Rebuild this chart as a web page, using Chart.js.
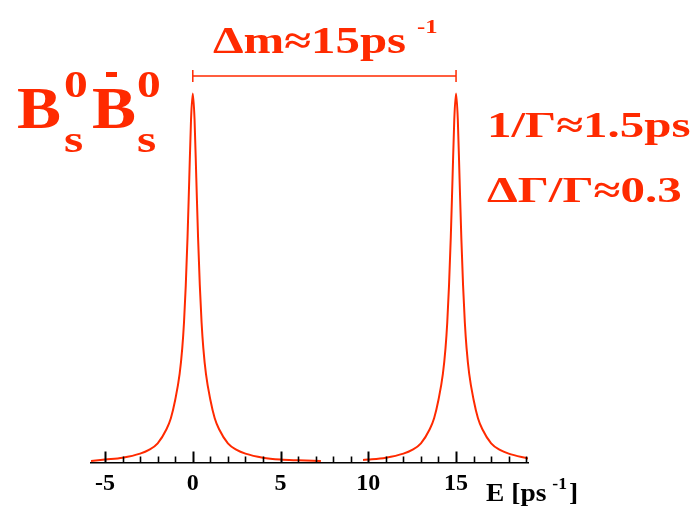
<!DOCTYPE html>
<html>
<head>
<meta charset="utf-8">
<script src="https://cdn.jsdelivr.net/npm/chart.js@4.4.1/dist/chart.umd.min.js"></script>
<style>
  html, body { margin: 0; padding: 0; background: #ffffff; }
  #wrap { width: 698px; height: 511px; position: relative; }
</style>
</head>
<body>
<div id="wrap"><canvas id="c" width="698" height="511"></canvas></div>
<script>
// Peak around E = 0 (relative height)
const peak1E = [-5.8, -5, -4, -3, -2.5, -2, -1.5, -1.25, -1, -0.75, -0.6, -0.5, -0.4, -0.3, -0.2, -0.1, 0,
                0.1, 0.2, 0.3, 0.4, 0.5, 0.6, 0.75, 1, 1.25, 1.5, 2, 2.5, 3, 4, 5, 6, 7.3];
const peak1H = [0.004, 0.008, 0.013, 0.024, 0.034, 0.052, 0.09, 0.12, 0.17, 0.24, 0.31, 0.38, 0.48, 0.61, 0.77, 0.93, 1.0,
                0.93, 0.77, 0.61, 0.48, 0.38, 0.31, 0.24, 0.17, 0.12, 0.09, 0.052, 0.034, 0.024, 0.013, 0.008, 0.006, 0.004];
// Peak around E = 15
const peak2E = [9.7, 10, 11, 12, 12.5, 13, 13.5, 13.75, 14, 14.25, 14.4, 14.5, 14.6, 14.7, 14.8, 14.9, 15,
                15.1, 15.2, 15.3, 15.4, 15.5, 15.6, 15.75, 16, 16.25, 16.5, 17, 17.5, 18, 19.1];
const peak2H = [0.007, 0.008, 0.013, 0.024, 0.034, 0.052, 0.09, 0.12, 0.17, 0.24, 0.31, 0.38, 0.48, 0.61, 0.77, 0.93, 1.0,
                0.93, 0.77, 0.61, 0.48, 0.38, 0.31, 0.24, 0.17, 0.12, 0.09, 0.052, 0.034, 0.024, 0.011];
const tickLabels = [-5, 0, 5, 10, 15];
const minorTicks = [-5, -4, -3, -2, -1, 0, 1, 2, 3, 4, 5, 6, 7, 8, 9, 10, 11, 12, 13, 14, 15, 16, 17, 18, 19];
const bracketFrom = 0, bracketTo = 15, bracketLevel = 1.05;

const RED = '#ff2a00';
const SERIF = '"Liberation Serif", "DejaVu Serif", serif';

const toPts = (xs, ys) => xs.map((x, i) => ({ x: x, y: ys[i] }));

// draw horizontally stretched text; returns end x
function wide(ctx, text, x, y, sx) {
  ctx.save();
  ctx.translate(x, y);
  ctx.scale(sx, 1);
  ctx.fillText(text, 0, 0);
  const w = ctx.measureText(text).width * sx;
  ctx.restore();
  return x + w;
}

const overlay = {
  id: 'overlay',
  afterDraw(chart) {
    const ctx = chart.ctx;
    const xs = chart.scales.x, ys = chart.scales.y;
    const base = chart.chartArea.bottom;
    ctx.save();
    // tick marks pointing up
    ctx.strokeStyle = '#000';
    minorTicks.forEach(v => {
      const px = Math.round(xs.getPixelForValue(v)) + 0.5;
      const major = (v % 5 === 0);
      ctx.lineWidth = major ? 2 : 1.6;
      ctx.beginPath(); ctx.moveTo(px, base); ctx.lineTo(px, base - (major ? 11 : 6)); ctx.stroke();
    });
    // bracket
    const bx1 = xs.getPixelForValue(bracketFrom), bx2 = xs.getPixelForValue(bracketTo);
    const by = Math.round(ys.getPixelForValue(bracketLevel)) + 1;
    ctx.strokeStyle = RED; ctx.lineWidth = 1.5;
    ctx.beginPath();
    ctx.moveTo(bx1, by); ctx.lineTo(bx2, by);
    ctx.moveTo(bx1, by - 6); ctx.lineTo(bx1, by + 6);
    ctx.moveTo(bx2, by - 6); ctx.lineTo(bx2, by + 6);
    ctx.stroke();

    ctx.fillStyle = RED;
    ctx.textBaseline = 'alphabetic';
    ctx.textAlign = 'left';
    // Delta m
    ctx.font = 'bold 37px ' + SERIF;
    wide(ctx, '\u0394m\u224815ps', 213, 53, 1.32);
    ctx.font = 'bold 19px ' + SERIF;
    wide(ctx, '-1', 417, 33, 1.3);
    // Bs0 Bs0bar
    ctx.font = 'bold 60px ' + SERIF;
    wide(ctx, 'B', 17, 128, 1.1);
    wide(ctx, 'B', 92, 128, 1.1);
    ctx.font = 'bold 38px ' + SERIF;
    wide(ctx, '0', 64, 97, 1.25);
    wide(ctx, '0', 137, 97, 1.25);
    wide(ctx, 's', 64, 152, 1.3);
    wide(ctx, 's', 137, 152, 1.3);
    ctx.fillRect(106, 72, 11, 5);
    // right labels
    ctx.font = 'bold 36px ' + SERIF;
    wide(ctx, '1/\u0393\u22481.5ps', 487, 137, 1.36);
    wide(ctx, '\u0394\u0393/\u0393\u22480.3', 487, 202, 1.36);
    // axis title
    ctx.fillStyle = '#000';
    ctx.font = 'bold 25px ' + SERIF;
    let ex = wide(ctx, 'E [ps', 486, 501, 1.1);
    ctx.font = 'bold 16px ' + SERIF;
    ex = wide(ctx, '-1', ex + 6, 489, 1.1);
    ctx.font = 'bold 25px ' + SERIF;
    wide(ctx, ']', ex + 2, 501, 1.1);
    ctx.restore();
  }
};

new Chart(document.getElementById('c'), {
  type: 'line',
  data: {
    datasets: [
      { data: toPts(peak1E, peak1H), borderColor: RED, borderWidth: 2, pointRadius: 0, cubicInterpolationMode: 'monotone', fill: false },
      { data: toPts(peak2E, peak2H), borderColor: RED, borderWidth: 2, pointRadius: 0, cubicInterpolationMode: 'monotone', fill: false }
    ]
  },
  options: {
    responsive: false,
    animation: false,
    events: [],
    layout: { padding: { left: 91, right: 170, top: 75, bottom: 0 } },
    plugins: { legend: { display: false }, tooltip: { enabled: false } },
    scales: {
      x: {
        type: 'linear', min: -5.8, max: 19.1,
        afterBuildTicks(scale) { scale.ticks = tickLabels.map(v => ({ value: v })); },
        afterFit(scale) { scale.height = 48.5; },
        grid: { display: false, drawTicks: false },
        border: { display: true, color: '#000', width: 1.5 },
        ticks: { color: '#000', font: { family: SERIF, size: 24, weight: 'bold' }, padding: 7, maxRotation: 0, autoSkip: false }
      },
      y: {
        display: false, min: 0, max: 1.05
      }
    }
  },
  plugins: [overlay]
});
</script>
</body>
</html>
